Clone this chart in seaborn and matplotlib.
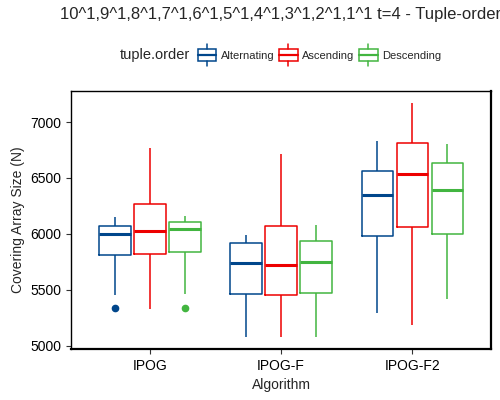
import numpy as np
import pandas as pd
import matplotlib
matplotlib.use("Agg")
import matplotlib.pyplot as plt
import seaborn as sns
from matplotlib.legend_handler import HandlerBase
from matplotlib.patches import Rectangle, Patch
from matplotlib.lines import Line2D

# values (9 obs per group: quartiles at idx 2/4/6)
algorithms = ["IPOG", "IPOG-F", "IPOG-F2"]
orders = ["Alternating", "Ascending", "Descending"]

ipog_alt = [5342, 5458, 5812, 5812, 6000, 6074, 6074, 6152, 6152]
ipog_asc = [5327, 5327, 5821, 5821, 6029, 6268, 6268, 6768, 6768]
ipog_desc = [5342, 5464, 5842, 5842, 6042, 6110, 6110, 6161, 6161]
ipogf_alt = [5077, 5077, 5461, 5461, 5741, 5917, 5917, 5991, 5991]
ipogf_asc = [5077, 5077, 5455, 5455, 5720, 6074, 6074, 6711, 6711]
ipogf_desc = [5077, 5077, 5470, 5470, 5747, 5940, 5940, 6077, 6077]
ipogf2_alt = [5297, 5297, 5979, 5979, 6348, 6565, 6565, 6833, 6833]
ipogf2_asc = [5185, 5185, 6065, 6065, 6539, 6810, 6810, 7172, 7172]
ipogf2_desc = [5420, 5420, 6000, 6000, 6393, 6631, 6631, 6804, 6804]

groups = [
    ("IPOG", "Alternating", ipog_alt), ("IPOG", "Ascending", ipog_asc), ("IPOG", "Descending", ipog_desc),
    ("IPOG-F", "Alternating", ipogf_alt), ("IPOG-F", "Ascending", ipogf_asc), ("IPOG-F", "Descending", ipogf_desc),
    ("IPOG-F2", "Alternating", ipogf2_alt), ("IPOG-F2", "Ascending", ipogf2_asc), ("IPOG-F2", "Descending", ipogf2_desc),
]
rows = []
for alg, order, vals in groups:
    for v in vals:
        rows.append({"Algorithm": alg, "tuple.order": order, "N": v})
df = pd.DataFrame(rows)

colors = {"Alternating": "#00468B", "Ascending": "#ED0000", "Descending": "#42B540"}

sns.set_style("white")
plt.rcParams["font.family"] = ["Liberation Sans", "DejaVu Sans"]

fig = plt.figure(figsize=(5, 4), dpi=100)
ax = fig.add_axes([0.142, 0.1275, 0.84, 0.645])

sns.boxplot(data=df, x="Algorithm", y="N", hue="tuple.order", order=algorithms,
            hue_order=orders, palette=colors, fill=False, width=0.8, gap=0.1,
            linewidth=1.1, showcaps=False, legend=False, ax=ax,
            medianprops=dict(linewidth=2.2),
            flierprops=dict(marker="o", markersize=4.5))

for ln in ax.lines:
    if ln.get_marker() == "o":
        ln.set_markerfacecolor(ln.get_markeredgecolor())

ax.set_xlim(-0.6, 2.6)
ax.set_ylim(4972, 7277)
ax.set_yticks([5000, 5500, 6000, 6500, 7000])
ax.set_xlabel("Algorithm", fontsize=10, labelpad=4)
ax.set_ylabel("Covering Array Size (N)", fontsize=10, labelpad=4)
ax.tick_params(axis="both", labelsize=10, length=3.5, width=0.8, colors="#333333",
               labelcolor="black", left=True, bottom=True)
for side, sp in ax.spines.items():
    sp.set_visible(True)
    sp.set_color("black")
    sp.set_linewidth(1.0)
ax.spines["bottom"].set_linewidth(1.6)
ax.spines["right"].set_linewidth(1.6)
ax.grid(False)

fig.text(0.12, 0.9625, "10^1,9^1,8^1,7^1,6^1,5^1,4^1,3^1,2^1,1^1 t=4 - Tuple-order",
         ha="left", va="center", fontsize=12)


class BoxKey(HandlerBase):
    def create_artists(self, legend, orig_handle, xdescent, ydescent, width, height, fontsize, trans):
        c = orig_handle.get_edgecolor()
        cx = width / 2 - xdescent
        bh = height
        y0 = height / 2 - ydescent - bh / 2
        box = Rectangle((cx - width / 2, y0), width, bh, fill=False,
                        edgecolor=c, linewidth=1.1, transform=trans)
        med = Line2D([cx - width / 2, cx + width / 2], [y0 + bh / 2] * 2,
                     color=c, linewidth=1.6, transform=trans)
        w1 = Line2D([cx, cx], [y0 - 3.5, y0], color=c, linewidth=1.1, transform=trans)
        w2 = Line2D([cx, cx], [y0 + bh, y0 + bh + 3.5], color=c, linewidth=1.1, transform=trans)
        return [box, med, w1, w2]


handles = [Patch(edgecolor=colors[o], facecolor="none") for o in orders]
fig.text(0.24, 0.8625, "tuple.order", ha="left", va="center", fontsize=10.5)
fig.legend(handles, orders, handler_map={Patch: BoxKey()}, loc="center left",
           bbox_to_anchor=(0.395, 0.8625), ncol=3, frameon=False, fontsize=8,
           handlelength=1.7, handleheight=1.25, handletextpad=0.4, columnspacing=0.4,
           borderpad=0, borderaxespad=0)

fig.savefig("out.png", dpi=100)
